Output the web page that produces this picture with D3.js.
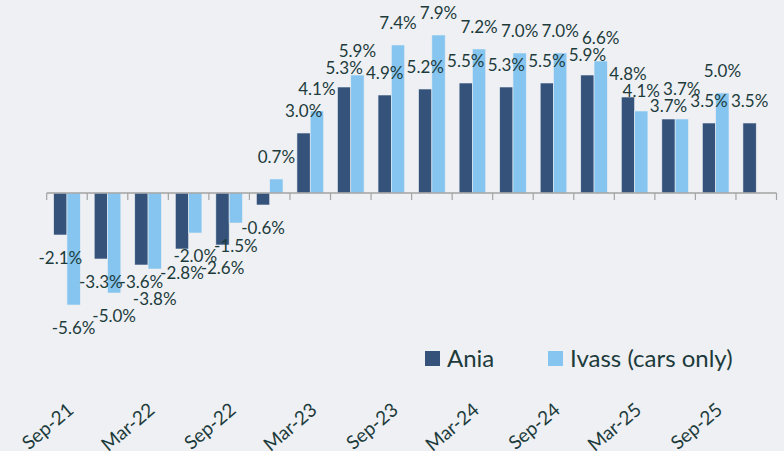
<!DOCTYPE html>
<html>
<head>
<meta charset="utf-8">
<script src="https://cdn.jsdelivr.net/npm/d3@7"></script>
<style>
  html, body { margin: 0; padding: 0; background: #eef0f4; }
  svg { display: block; font-family: Lato, "Open Sans", sans-serif; }
  .lbl { fill: #1d3b3b; font-size: 17px; }
  .cat { fill: #1d3b3b; font-size: 19px; }
</style>
</head>
<body>
<svg id="chart" width="784" height="451"></svg>
<script>
// quarterly y/y change, %
let quarters = ["Sep-21", "Dec-21", "Mar-22", "Jun-22", "Sep-22", "Dec-22",
                "Mar-23", "Jun-23", "Sep-23", "Dec-23", "Mar-24", "Jun-24",
                "Sep-24", "Dec-24", "Mar-25", "Jun-25", "Sep-25", "Dec-25"];
let ania  = [-2.1, -3.3, -3.6, -2.8, -2.6, -0.6, 3.0, 5.3, 4.9, 5.2, 5.5, 5.3, 5.5, 5.9, 4.8, 3.7, 3.5, 3.5];
let ivass = [-5.6, -5.0, -3.8, -2.0, -1.5, 0.7, 4.1, 5.9, 7.4, 7.9, 7.2, 7.0, 7.0, 6.6, 4.1, 3.7, 5.0, null];
let tickLabels = ["Sep-21", "Mar-22", "Sep-22", "Mar-23", "Sep-23", "Mar-24", "Sep-24", "Mar-25", "Sep-25"];
let seriesNames = ["Ania", "Ivass (cars only)"];

let colors = {"Ania": "#34527a", "Ivass (cars only)": "#85c5f0"};

let svg = d3.select("#chart");

let x = d3.scaleBand()
    .domain(quarters)
    .range([46.7, 776.5]);

let y = d3.scaleLinear()
    .domain([-10, 10])
    .range([393, -7]);

let barW = 13.3;
let x1 = d3.scaleBand()
    .domain(seriesNames)
    .range([x.bandwidth() / 2 - barW, x.bandwidth() / 2 + barW]);

let rows = quarters.map((q, i) => ({q: q, vals: [
    {name: seriesNames[0], v: ania[i]},
    {name: seriesNames[1], v: ivass[i]}
].filter(d => d.v !== null)}));

// label baselines: outside the bar end, pulled apart when the pair collides
rows.forEach(r => {
    r.vals.forEach(d => { d.ly = d.v >= 0 ? y(d.v) - 16 : y(d.v) + 29; });
    if (r.vals.length === 2) {
        let [a, b] = r.vals;
        let gap = 17;
        if (Math.abs(a.ly - b.ly) < gap && Math.sign(a.v) === Math.sign(b.v)) {
            let mid = (a.ly + b.ly) / 2;
            let dir = a.v >= 0 ? -1 : 1;             // outward direction
            let outer = Math.abs(a.v) > Math.abs(b.v) ? a : b;
            if (Math.abs(a.v) === Math.abs(b.v)) outer = b;
            let inner = outer === a ? b : a;
            outer.ly = mid + dir * gap / 2;
            inner.ly = mid - dir * gap / 2;
        }
    }
});

let groups = svg.append("g")
    .selectAll("g")
    .data(rows)
    .enter().append("g")
    .attr("transform", d => "translate(" + x(d.q) + ",0)");

groups.selectAll("rect")
    .data(d => d.vals)
    .enter().append("rect")
    .attr("x", d => x1(d.name))
    .attr("width", x1.bandwidth())
    .attr("y", d => y(Math.max(0, d.v)))
    .attr("height", d => Math.abs(y(d.v) - y(0)))
    .attr("fill", d => colors[d.name])
    .attr("stroke", "#e9edf2")
    .attr("stroke-width", 0.6);

// axis line + ticks between categories
let bounds = quarters.map(q => x(q)).concat([x.range()[1]]);
let axis = svg.append("g").attr("stroke", "#a3a3a3");
axis.append("line")
    .attr("x1", x.range()[0]).attr("x2", x.range()[1])
    .attr("y1", y(0)).attr("y2", y(0))
    .attr("stroke-width", 1.5);
axis.selectAll(".tk")
    .data(bounds)
    .enter().append("line")
    .attr("x1", d => d).attr("x2", d => d)
    .attr("y1", y(0)).attr("y2", y(0) + 7)
    .attr("stroke-width", 1.2);

// data labels
groups.selectAll("text")
    .data(d => d.vals)
    .enter().append("text")
    .attr("class", "lbl")
    .attr("text-anchor", "middle")
    .attr("x", d => x1(d.name) + x1.bandwidth() / 2)
    .attr("y", d => d.ly)
    .text(d => d.v.toFixed(1) + "%");

// category labels
svg.append("g")
    .selectAll("text")
    .data(tickLabels)
    .enter().append("text")
    .attr("class", "cat")
    .attr("text-anchor", "end")
    .attr("transform", d => "translate(" + (x(d) + x.bandwidth() / 2 + 8) + ",412) rotate(-40)")
    .text(d => d);

// legend
let legend = svg.append("g")
    .selectAll("g")
    .data(seriesNames)
    .enter().append("g")
    .attr("transform", (d, i) => "translate(" + [425, 548][i] + ",351)");
legend.append("rect")
    .attr("width", 15).attr("height", 15)
    .attr("fill", d => colors[d]);
legend.append("text")
    .attr("x", 22).attr("y", 16)
    .attr("fill", "#1d3b3b")
    .style("font-size", "24px")
    .text(d => d);
</script>
</body>
</html>
